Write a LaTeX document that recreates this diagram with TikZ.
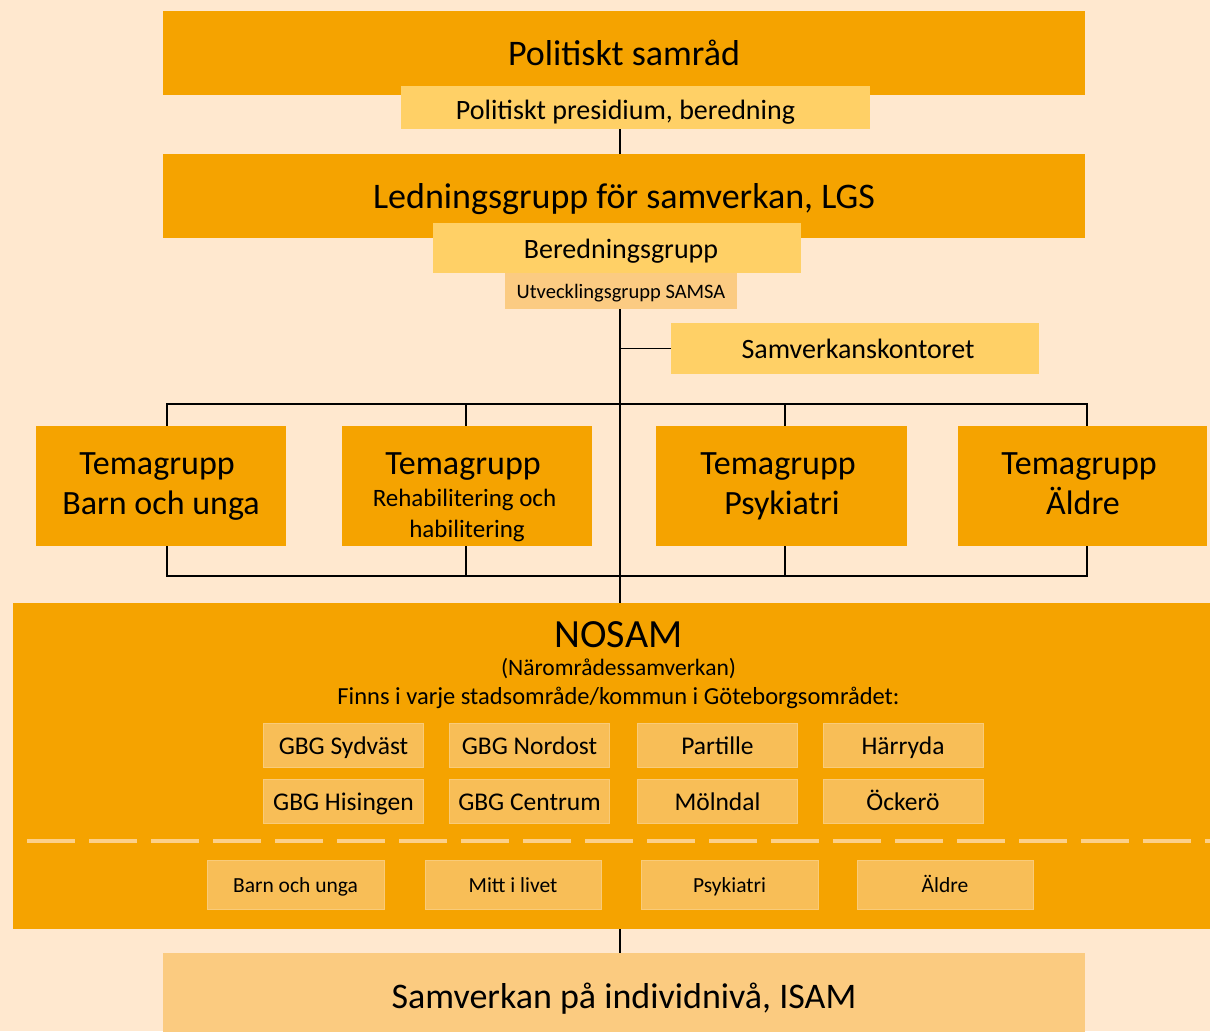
\documentclass[tikz,border=0pt]{standalone}
\usepackage{fontspec}
\setmainfont{Carlito}
\definecolor{bgc}{HTML}{FFE8CF}
\definecolor{orng}{HTML}{F5A300}
\definecolor{paley}{HTML}{FFD066}
\definecolor{utvc}{HTML}{FBCB82}
\definecolor{nbox}{HTML}{F8BE57}
\definecolor{isamc}{HTML}{FBCB80}
\definecolor{dashc}{HTML}{FCD08A}
\tikzset{
  fs/.style={font=\fontsize{#1}{#1}\selectfont, text height=0.84*#1pt, text depth=0.12*#1pt},
  box/.style={rectangle, inner sep=0pt, anchor=center, text=black},
  bigbox/.style={box, fill=orng, minimum width=922pt, minimum height=84pt, fs=36},
  subbox/.style={box, fill=paley, fs=28},
  tema/.style={box, fill=orng, minimum width=250pt, minimum height=120pt},
  tline/.style={plain, fs=34},
  tsmall/.style={plain, fs=25},
  nb/.style={box, fill=nbox, draw=nbox!80!white, line width=0.8pt, minimum width=160pt, minimum height=44pt, fs=25.5},
  bb/.style={box, fill=nbox, draw=nbox!80!white, line width=0.8pt, minimum width=176pt, minimum height=49pt, fs=21.5},
  conn/.style={draw=black, line width=1.8pt},
  plain/.style={inner sep=0pt, anchor=center, text=black}
}
\begin{document}
\begin{tikzpicture}[x=1pt,y=-1pt]
\useasboundingbox (0,0) rectangle (1210,1031);
\fill[bgc] (0,0) rectangle (1210,1031);
\coordinate (spine) at (620,0);

% top
\node[bigbox] (ps) at (624,53) {Politiskt samråd};
\node[subbox, minimum width=469pt, minimum height=43pt, text height=0.9*28pt, text depth=0.06*28pt] (pp) at (635.5,107.5) {\hspace*{-20pt}Politiskt presidium, beredning};
\node[bigbox] (lgs) at (624,196) {Ledningsgrupp för samverkan, LGS};
\node[subbox, minimum width=368pt, minimum height=50pt] (ber) at (617,248) {\hspace*{8pt}Beredningsgrupp};
\node[box, fill=utvc, minimum width=232pt, minimum height=36pt, fs=20.5] (utv) at (621,291) {Utvecklingsgrupp SAMSA};
\node[subbox, minimum width=368pt, minimum height=51pt] (sk) at (855,348.5) {\hspace*{6pt}Samverkanskontoret};

% temagrupper
\node[tema] (t1) at (161,486) {};
\node[tema] (t2) at (467,486) {};
\node[tema, minimum width=251pt] (t3) at (781.5,486) {};
\node[tema, minimum width=249pt] (t4) at (1082.5,486) {};
\node[tline] (t1a) at (157,462) {Temagrupp};
\node[tline] (t1b) at (161,502) {Barn och unga};
\node[tline] (t2a) at (463,462) {Temagrupp};
\node[tsmall] (t2b) at (464.5,497) {Rehabilitering och};
\node[tsmall] (t2c) at (467,528) {habilitering};
\node[tline] (t3a) at (778,462) {Temagrupp};
\node[tline] (t3b) at (782,502) {Psykiatri};
\node[tline] (t4a) at (1079,462) {Temagrupp};
\node[tline] (t4b) at (1083,502) {Äldre};

% NOSAM
\node[box, fill=orng, minimum width=1205pt, minimum height=326pt] (nosam) at (615.5,766) {};
\node[plain, fs=40] (ntitle) at (618.5,633) {NOSAM};
\node[plain, fs=23.5] (nsub) at (618.5,667) {(Närområdessamverkan)};
\node[plain, fs=24.5] (nfinns) at (618.5,696) {Finns i varje stadsområde/kommun i Göteborgsområdet:};

\node[nb] (n11) at (343.5,745) {GBG Sydväst};
\node[nb] (n12) at (529.5,745) {GBG Nordost};
\node[nb] (n13) at (717.5,745) {Partille};
\node[nb] (n14) at (903,745) {Härryda};
\node[nb] (n21) at (343.5,801) {GBG Hisingen};
\node[nb] (n22) at (529.5,801) {GBG Centrum};
\node[nb] (n23) at (717.5,801) {Mölndal};
\node[nb] (n24) at (903,801) {Öckerö};

\draw[dashc, line width=4pt, dash pattern=on 48pt off 14pt] (27,841) -- (1210,841);

\node[bb, minimum width=177pt] (b1) at (295.5,884.5) {Barn och unga};
\node[bb] (b2) at (513,884.5) {Mitt i livet};
\node[bb, minimum width=177pt] (b3) at (729.5,884.5) {Psykiatri};
\node[bb] (b4) at (945,884.5) {Äldre};

% ISAM
\node[box, fill=isamc, minimum width=922pt, minimum height=80pt, fs=36, text height=0.9*36pt, text depth=0.06*36pt] (isam) at (624,993) {Samverkan på individnivå, ISAM};

% connectors
\draw[conn] (pp.south -| spine) -- (lgs.north -| spine);
\draw[conn] (utv.south -| spine) -- (nosam.north -| spine);
\draw[conn] (spine |- sk.west) -- (sk.west);
\draw[conn] ([xshift=6pt]t1.north) -- ++(0,-22) -| ([xshift=4.5pt]t4.north);
\draw[conn] ([xshift=-1pt]t2.north) -- ++(0,-22);
\draw[conn] ([xshift=3.5pt]t3.north) -- ++(0,-22);
\draw[conn] ([xshift=6pt]t1.south) -- ++(0,30) -| ([xshift=4.5pt]t4.south);
\draw[conn] ([xshift=-1pt]t2.south) -- ++(0,30);
\draw[conn] ([xshift=3.5pt]t3.south) -- ++(0,30);
\draw[conn] (nosam.south -| spine) -- (isam.north -| spine);
\end{tikzpicture}
\end{document}
